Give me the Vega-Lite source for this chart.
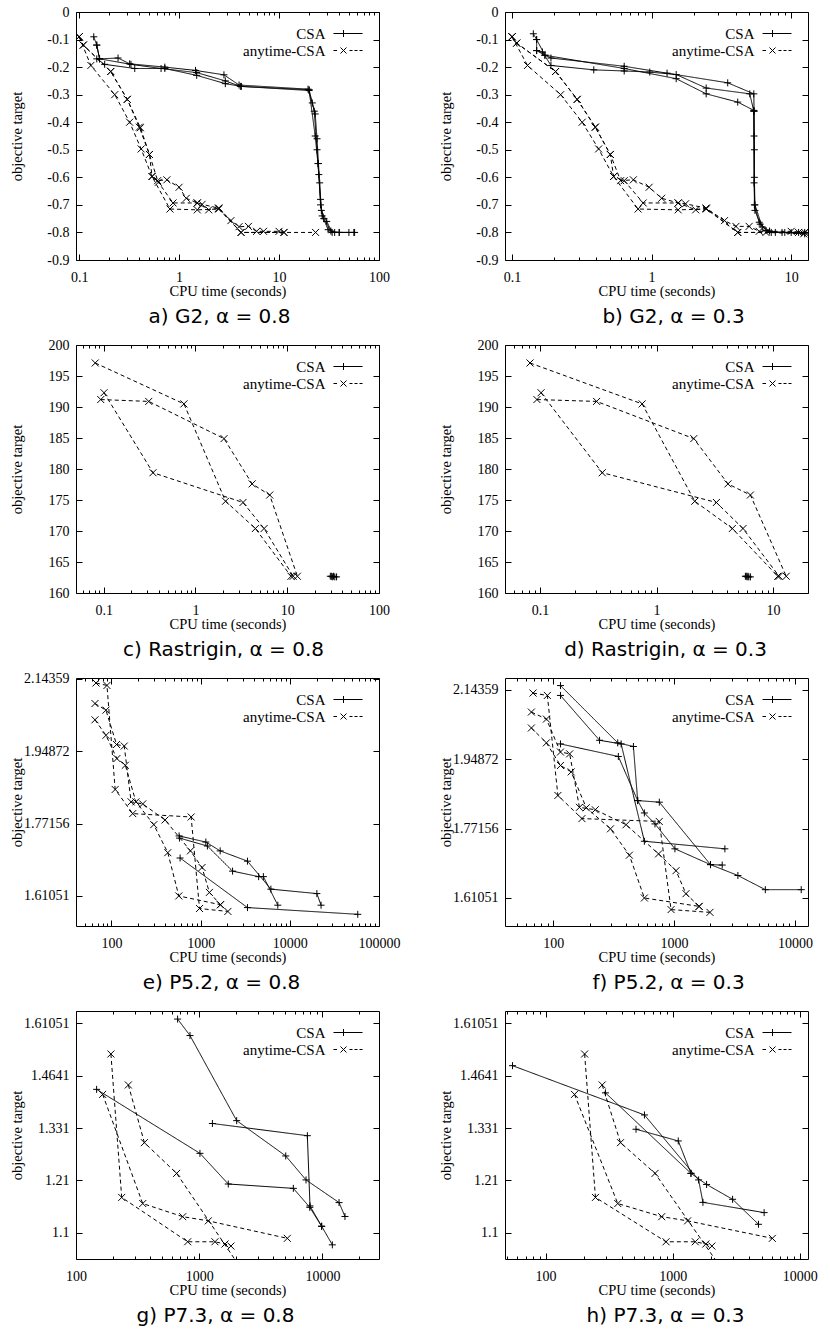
{
"$schema": "https://vega.github.io/schema/vega-lite/v6.json",
"background": "white",
"padding": {"left": 8, "top": 4, "right": 5, "bottom": 5},
"bounds": "flush",
"columns": 2,
"spacing": {"row": 85, "column": 126},
"resolve": {"scale": {"shape": "independent"}, "legend": {"shape": "independent"}},
"data": {"values": [
{"p":"a","a":"CSA","r":1,"t":0.14,"v":-0.09},{"p":"a","a":"CSA","r":1,"t":0.15,"v":-0.12},{"p":"a","a":"CSA","r":1,"t":0.16,"v":-0.17},{"p":"a","a":"CSA","r":1,"t":0.245,"v":-0.167},{"p":"a","a":"CSA","r":1,"t":0.32,"v":-0.188},{"p":"a","a":"CSA","r":1,"t":0.72,"v":-0.2},{"p":"a","a":"CSA","r":1,"t":1.46,"v":-0.212},{"p":"a","a":"CSA","r":1,"t":2.81,"v":-0.228},{"p":"a","a":"CSA","r":1,"t":3.98,"v":-0.265},{"p":"a","a":"CSA","r":1,"t":19.5,"v":-0.28},{"p":"a","a":"CSA","r":1,"t":21.5,"v":-0.33},{"p":"a","a":"CSA","r":1,"t":23,"v":-0.37},{"p":"a","a":"CSA","r":1,"t":24,"v":-0.46},{"p":"a","a":"CSA","r":1,"t":24.8,"v":-0.55},{"p":"a","a":"CSA","r":1,"t":25.5,"v":-0.62},{"p":"a","a":"CSA","r":1,"t":26.5,"v":-0.72},{"p":"a","a":"CSA","r":1,"t":30,"v":-0.76},{"p":"a","a":"CSA","r":1,"t":34,"v":-0.8},{"p":"a","a":"CSA","r":1,"t":40,"v":-0.8},{"p":"a","a":"CSA","r":1,"t":56,"v":-0.8},
{"p":"a","a":"CSA","r":2,"t":0.15,"v":-0.12},{"p":"a","a":"CSA","r":2,"t":0.16,"v":-0.17},{"p":"a","a":"CSA","r":2,"t":0.33,"v":-0.19},{"p":"a","a":"CSA","r":2,"t":0.66,"v":-0.205},{"p":"a","a":"CSA","r":2,"t":1.5,"v":-0.22},{"p":"a","a":"CSA","r":2,"t":2.9,"v":-0.25},{"p":"a","a":"CSA","r":2,"t":4.1,"v":-0.27},{"p":"a","a":"CSA","r":2,"t":20,"v":-0.282},{"p":"a","a":"CSA","r":2,"t":22.5,"v":-0.36},{"p":"a","a":"CSA","r":2,"t":24,"v":-0.5},{"p":"a","a":"CSA","r":2,"t":25,"v":-0.59},{"p":"a","a":"CSA","r":2,"t":26,"v":-0.7},{"p":"a","a":"CSA","r":2,"t":28,"v":-0.75},{"p":"a","a":"CSA","r":2,"t":33,"v":-0.795},{"p":"a","a":"CSA","r":2,"t":40,"v":-0.8},{"p":"a","a":"CSA","r":2,"t":50,"v":-0.8},
{"p":"a","a":"CSA","r":3,"t":0.15,"v":-0.17},{"p":"a","a":"CSA","r":3,"t":0.18,"v":-0.19},{"p":"a","a":"CSA","r":3,"t":0.36,"v":-0.205},{"p":"a","a":"CSA","r":3,"t":0.72,"v":-0.205},{"p":"a","a":"CSA","r":3,"t":1.5,"v":-0.23},{"p":"a","a":"CSA","r":3,"t":2.9,"v":-0.26},{"p":"a","a":"CSA","r":3,"t":4.2,"v":-0.27},{"p":"a","a":"CSA","r":3,"t":20,"v":-0.285},{"p":"a","a":"CSA","r":3,"t":23,"v":-0.45},{"p":"a","a":"CSA","r":3,"t":24.5,"v":-0.55},{"p":"a","a":"CSA","r":3,"t":26,"v":-0.68},{"p":"a","a":"CSA","r":3,"t":27,"v":-0.74},{"p":"a","a":"CSA","r":3,"t":31,"v":-0.79},{"p":"a","a":"CSA","r":3,"t":36,"v":-0.8},{"p":"a","a":"CSA","r":3,"t":57,"v":-0.8},
{"p":"a","a":"anytime-CSA","r":4,"t":0.1,"v":-0.09},{"p":"a","a":"anytime-CSA","r":4,"t":0.11,"v":-0.12},{"p":"a","a":"anytime-CSA","r":4,"t":0.207,"v":-0.216},{"p":"a","a":"anytime-CSA","r":4,"t":0.303,"v":-0.317},{"p":"a","a":"anytime-CSA","r":4,"t":0.4,"v":-0.418},{"p":"a","a":"anytime-CSA","r":4,"t":0.505,"v":-0.517},{"p":"a","a":"anytime-CSA","r":4,"t":0.61,"v":-0.612},{"p":"a","a":"anytime-CSA","r":4,"t":0.755,"v":-0.609},{"p":"a","a":"anytime-CSA","r":4,"t":1.0,"v":-0.636},{"p":"a","a":"anytime-CSA","r":4,"t":1.18,"v":-0.676},{"p":"a","a":"anytime-CSA","r":4,"t":1.52,"v":-0.693},{"p":"a","a":"anytime-CSA","r":4,"t":1.7,"v":-0.698},{"p":"a","a":"anytime-CSA","r":4,"t":2.49,"v":-0.712},{"p":"a","a":"anytime-CSA","r":4,"t":3.3,"v":-0.757},{"p":"a","a":"anytime-CSA","r":4,"t":3.98,"v":-0.779},{"p":"a","a":"anytime-CSA","r":4,"t":4.94,"v":-0.778},{"p":"a","a":"anytime-CSA","r":4,"t":5.96,"v":-0.796},{"p":"a","a":"anytime-CSA","r":4,"t":7.0,"v":-0.796},{"p":"a","a":"anytime-CSA","r":4,"t":10,"v":-0.796},{"p":"a","a":"anytime-CSA","r":4,"t":11.2,"v":-0.8},
{"p":"a","a":"anytime-CSA","r":5,"t":0.1,"v":-0.09},{"p":"a","a":"anytime-CSA","r":5,"t":0.11,"v":-0.12},{"p":"a","a":"anytime-CSA","r":5,"t":0.207,"v":-0.216},{"p":"a","a":"anytime-CSA","r":5,"t":0.303,"v":-0.317},{"p":"a","a":"anytime-CSA","r":5,"t":0.41,"v":-0.42},{"p":"a","a":"anytime-CSA","r":5,"t":0.505,"v":-0.517},{"p":"a","a":"anytime-CSA","r":5,"t":0.536,"v":-0.597},{"p":"a","a":"anytime-CSA","r":5,"t":0.62,"v":-0.618},{"p":"a","a":"anytime-CSA","r":5,"t":0.87,"v":-0.693},{"p":"a","a":"anytime-CSA","r":5,"t":1.52,"v":-0.693},{"p":"a","a":"anytime-CSA","r":5,"t":1.98,"v":-0.718},{"p":"a","a":"anytime-CSA","r":5,"t":2.49,"v":-0.712},{"p":"a","a":"anytime-CSA","r":5,"t":4.17,"v":-0.8},{"p":"a","a":"anytime-CSA","r":5,"t":23.2,"v":-0.8},
{"p":"a","a":"anytime-CSA","r":6,"t":0.1,"v":-0.09},{"p":"a","a":"anytime-CSA","r":6,"t":0.131,"v":-0.194},{"p":"a","a":"anytime-CSA","r":6,"t":0.227,"v":-0.3},{"p":"a","a":"anytime-CSA","r":6,"t":0.32,"v":-0.4},{"p":"a","a":"anytime-CSA","r":6,"t":0.417,"v":-0.497},{"p":"a","a":"anytime-CSA","r":6,"t":0.536,"v":-0.597},{"p":"a","a":"anytime-CSA","r":6,"t":0.81,"v":-0.715},{"p":"a","a":"anytime-CSA","r":6,"t":1.52,"v":-0.718},{"p":"a","a":"anytime-CSA","r":6,"t":2.49,"v":-0.715},{"p":"a","a":"anytime-CSA","r":6,"t":4.17,"v":-0.8},{"p":"a","a":"anytime-CSA","r":6,"t":11.2,"v":-0.8},

{"p":"b","a":"CSA","r":1,"t":0.142,"v":-0.079},{"p":"b","a":"CSA","r":1,"t":0.15,"v":-0.1},{"p":"b","a":"CSA","r":1,"t":0.172,"v":-0.157},{"p":"b","a":"CSA","r":1,"t":0.19,"v":-0.167},{"p":"b","a":"CSA","r":1,"t":0.636,"v":-0.197},{"p":"b","a":"CSA","r":1,"t":1.29,"v":-0.222},{"p":"b","a":"CSA","r":1,"t":3.51,"v":-0.257},{"p":"b","a":"CSA","r":1,"t":5.4,"v":-0.297},{"p":"b","a":"CSA","r":1,"t":5.42,"v":-0.36},{"p":"b","a":"CSA","r":1,"t":5.45,"v":-0.5},{"p":"b","a":"CSA","r":1,"t":5.45,"v":-0.7},{"p":"b","a":"CSA","r":1,"t":5.9,"v":-0.763},{"p":"b","a":"CSA","r":1,"t":6.6,"v":-0.793},{"p":"b","a":"CSA","r":1,"t":7.7,"v":-0.8},{"p":"b","a":"CSA","r":1,"t":10,"v":-0.8},{"p":"b","a":"CSA","r":1,"t":12.5,"v":-0.8},
{"p":"b","a":"CSA","r":2,"t":0.15,"v":-0.1},{"p":"b","a":"CSA","r":2,"t":0.15,"v":-0.14},{"p":"b","a":"CSA","r":2,"t":0.165,"v":-0.145},{"p":"b","a":"CSA","r":2,"t":0.19,"v":-0.194},{"p":"b","a":"CSA","r":2,"t":0.385,"v":-0.21},{"p":"b","a":"CSA","r":2,"t":0.636,"v":-0.214},{"p":"b","a":"CSA","r":2,"t":0.97,"v":-0.218},{"p":"b","a":"CSA","r":2,"t":1.5,"v":-0.227},{"p":"b","a":"CSA","r":2,"t":2.46,"v":-0.276},{"p":"b","a":"CSA","r":2,"t":5.05,"v":-0.297},{"p":"b","a":"CSA","r":2,"t":5.4,"v":-0.36},{"p":"b","a":"CSA","r":2,"t":5.42,"v":-0.62},{"p":"b","a":"CSA","r":2,"t":5.5,"v":-0.72},{"p":"b","a":"CSA","r":2,"t":6.0,"v":-0.77},{"p":"b","a":"CSA","r":2,"t":7.0,"v":-0.795},{"p":"b","a":"CSA","r":2,"t":8.6,"v":-0.8},{"p":"b","a":"CSA","r":2,"t":11.3,"v":-0.8},
{"p":"b","a":"CSA","r":3,"t":0.15,"v":-0.14},{"p":"b","a":"CSA","r":3,"t":0.172,"v":-0.157},{"p":"b","a":"CSA","r":3,"t":0.636,"v":-0.205},{"p":"b","a":"CSA","r":3,"t":1.5,"v":-0.242},{"p":"b","a":"CSA","r":3,"t":2.46,"v":-0.297},{"p":"b","a":"CSA","r":3,"t":4.14,"v":-0.327},{"p":"b","a":"CSA","r":3,"t":5.4,"v":-0.357},{"p":"b","a":"CSA","r":3,"t":5.42,"v":-0.45},{"p":"b","a":"CSA","r":3,"t":5.45,"v":-0.6},{"p":"b","a":"CSA","r":3,"t":5.5,"v":-0.7},{"p":"b","a":"CSA","r":3,"t":6.2,"v":-0.78},{"p":"b","a":"CSA","r":3,"t":7.2,"v":-0.8},{"p":"b","a":"CSA","r":3,"t":9.0,"v":-0.8},{"p":"b","a":"CSA","r":3,"t":12.5,"v":-0.805},
{"p":"b","a":"anytime-CSA","r":4,"t":0.1,"v":-0.09},{"p":"b","a":"anytime-CSA","r":4,"t":0.108,"v":-0.113},{"p":"b","a":"anytime-CSA","r":4,"t":0.205,"v":-0.216},{"p":"b","a":"anytime-CSA","r":4,"t":0.293,"v":-0.317},{"p":"b","a":"anytime-CSA","r":4,"t":0.395,"v":-0.418},{"p":"b","a":"anytime-CSA","r":4,"t":0.506,"v":-0.517},{"p":"b","a":"anytime-CSA","r":4,"t":0.6,"v":-0.612},{"p":"b","a":"anytime-CSA","r":4,"t":0.74,"v":-0.609},{"p":"b","a":"anytime-CSA","r":4,"t":0.96,"v":-0.636},{"p":"b","a":"anytime-CSA","r":4,"t":1.18,"v":-0.676},{"p":"b","a":"anytime-CSA","r":4,"t":1.55,"v":-0.693},{"p":"b","a":"anytime-CSA","r":4,"t":1.75,"v":-0.696},{"p":"b","a":"anytime-CSA","r":4,"t":2.46,"v":-0.712},{"p":"b","a":"anytime-CSA","r":4,"t":3.33,"v":-0.757},{"p":"b","a":"anytime-CSA","r":4,"t":4.02,"v":-0.778},{"p":"b","a":"anytime-CSA","r":4,"t":5.0,"v":-0.778},{"p":"b","a":"anytime-CSA","r":4,"t":5.9,"v":-0.796},{"p":"b","a":"anytime-CSA","r":4,"t":10,"v":-0.796},{"p":"b","a":"anytime-CSA","r":4,"t":12.5,"v":-0.8},
{"p":"b","a":"anytime-CSA","r":5,"t":0.1,"v":-0.09},{"p":"b","a":"anytime-CSA","r":5,"t":0.108,"v":-0.113},{"p":"b","a":"anytime-CSA","r":5,"t":0.205,"v":-0.216},{"p":"b","a":"anytime-CSA","r":5,"t":0.293,"v":-0.317},{"p":"b","a":"anytime-CSA","r":5,"t":0.395,"v":-0.418},{"p":"b","a":"anytime-CSA","r":5,"t":0.506,"v":-0.517},{"p":"b","a":"anytime-CSA","r":5,"t":0.534,"v":-0.597},{"p":"b","a":"anytime-CSA","r":5,"t":0.636,"v":-0.612},{"p":"b","a":"anytime-CSA","r":5,"t":0.87,"v":-0.693},{"p":"b","a":"anytime-CSA","r":5,"t":1.55,"v":-0.693},{"p":"b","a":"anytime-CSA","r":5,"t":2.07,"v":-0.718},{"p":"b","a":"anytime-CSA","r":5,"t":2.46,"v":-0.712},{"p":"b","a":"anytime-CSA","r":5,"t":4.14,"v":-0.8},{"p":"b","a":"anytime-CSA","r":5,"t":11.3,"v":-0.8},
{"p":"b","a":"anytime-CSA","r":6,"t":0.1,"v":-0.09},{"p":"b","a":"anytime-CSA","r":6,"t":0.129,"v":-0.194},{"p":"b","a":"anytime-CSA","r":6,"t":0.223,"v":-0.3},{"p":"b","a":"anytime-CSA","r":6,"t":0.318,"v":-0.4},{"p":"b","a":"anytime-CSA","r":6,"t":0.417,"v":-0.497},{"p":"b","a":"anytime-CSA","r":6,"t":0.534,"v":-0.597},{"p":"b","a":"anytime-CSA","r":6,"t":0.8,"v":-0.715},{"p":"b","a":"anytime-CSA","r":6,"t":1.55,"v":-0.718},{"p":"b","a":"anytime-CSA","r":6,"t":2.46,"v":-0.715},{"p":"b","a":"anytime-CSA","r":6,"t":4.14,"v":-0.8},{"p":"b","a":"anytime-CSA","r":6,"t":6.6,"v":-0.8},{"p":"b","a":"anytime-CSA","r":6,"t":12.3,"v":-0.805},

{"p":"c","a":"CSA","r":1,"t":29.5,"v":162.7},{"p":"c","a":"CSA","r":1,"t":31,"v":162.6},{"p":"c","a":"CSA","r":2,"t":30.5,"v":162.7},{"p":"c","a":"CSA","r":2,"t":33,"v":162.6},{"p":"c","a":"CSA","r":3,"t":32,"v":162.7},{"p":"c","a":"CSA","r":3,"t":34.5,"v":162.6},
{"p":"c","a":"anytime-CSA","r":4,"t":0.081,"v":197.1},{"p":"c","a":"anytime-CSA","r":4,"t":0.75,"v":190.5},{"p":"c","a":"anytime-CSA","r":4,"t":2.13,"v":174.8},{"p":"c","a":"anytime-CSA","r":4,"t":4.5,"v":170.4},{"p":"c","a":"anytime-CSA","r":4,"t":11,"v":162.7},
{"p":"c","a":"anytime-CSA","r":5,"t":0.093,"v":191.2},{"p":"c","a":"anytime-CSA","r":5,"t":0.31,"v":190.9},{"p":"c","a":"anytime-CSA","r":5,"t":2.05,"v":184.9},{"p":"c","a":"anytime-CSA","r":5,"t":4.15,"v":177.6},{"p":"c","a":"anytime-CSA","r":5,"t":6.45,"v":175.8},{"p":"c","a":"anytime-CSA","r":5,"t":12.9,"v":162.7},
{"p":"c","a":"anytime-CSA","r":6,"t":0.101,"v":192.3},{"p":"c","a":"anytime-CSA","r":6,"t":0.345,"v":179.4},{"p":"c","a":"anytime-CSA","r":6,"t":3.3,"v":174.6},{"p":"c","a":"anytime-CSA","r":6,"t":5.6,"v":170.4},{"p":"c","a":"anytime-CSA","r":6,"t":11.6,"v":162.7},

{"p":"d","a":"CSA","r":1,"t":5.8,"v":162.7},{"p":"d","a":"CSA","r":1,"t":6.0,"v":162.6},{"p":"d","a":"CSA","r":2,"t":5.9,"v":162.7},{"p":"d","a":"CSA","r":2,"t":6.2,"v":162.6},{"p":"d","a":"CSA","r":3,"t":6.1,"v":162.7},{"p":"d","a":"CSA","r":3,"t":6.4,"v":162.6},
{"p":"d","a":"anytime-CSA","r":4,"t":0.082,"v":197.1},{"p":"d","a":"anytime-CSA","r":4,"t":0.753,"v":190.5},{"p":"d","a":"anytime-CSA","r":4,"t":2.13,"v":174.8},{"p":"d","a":"anytime-CSA","r":4,"t":4.48,"v":170.4},{"p":"d","a":"anytime-CSA","r":4,"t":11,"v":162.7},
{"p":"d","a":"anytime-CSA","r":5,"t":0.094,"v":191.2},{"p":"d","a":"anytime-CSA","r":5,"t":0.306,"v":190.9},{"p":"d","a":"anytime-CSA","r":5,"t":2.09,"v":184.9},{"p":"d","a":"anytime-CSA","r":5,"t":4.11,"v":177.6},{"p":"d","a":"anytime-CSA","r":5,"t":6.4,"v":175.8},{"p":"d","a":"anytime-CSA","r":5,"t":13,"v":162.7},
{"p":"d","a":"anytime-CSA","r":6,"t":0.102,"v":192.3},{"p":"d","a":"anytime-CSA","r":6,"t":0.342,"v":179.4},{"p":"d","a":"anytime-CSA","r":6,"t":3.27,"v":174.6},{"p":"d","a":"anytime-CSA","r":6,"t":5.53,"v":170.4},{"p":"d","a":"anytime-CSA","r":6,"t":11.3,"v":162.7},

{"p":"e","a":"CSA","r":1,"t":573,"v":1.743},{"p":"e","a":"CSA","r":1,"t":1143,"v":1.729},{"p":"e","a":"CSA","r":1,"t":1655,"v":1.709},{"p":"e","a":"CSA","r":1,"t":3350,"v":1.686},{"p":"e","a":"CSA","r":1,"t":6130,"v":1.625},{"p":"e","a":"CSA","r":1,"t":20100,"v":1.6155},{"p":"e","a":"CSA","r":1,"t":22400,"v":1.591},
{"p":"e","a":"CSA","r":2,"t":580,"v":1.738},{"p":"e","a":"CSA","r":2,"t":1190,"v":1.72},{"p":"e","a":"CSA","r":2,"t":2280,"v":1.664},{"p":"e","a":"CSA","r":2,"t":4470,"v":1.652},{"p":"e","a":"CSA","r":2,"t":5050,"v":1.652},{"p":"e","a":"CSA","r":2,"t":7330,"v":1.591},
{"p":"e","a":"CSA","r":3,"t":588,"v":1.693},{"p":"e","a":"CSA","r":3,"t":3350,"v":1.586},{"p":"e","a":"CSA","r":3,"t":57800,"v":1.572},
{"p":"e","a":"anytime-CSA","r":4,"t":67,"v":2.132},{"p":"e","a":"anytime-CSA","r":4,"t":89,"v":2.125},{"p":"e","a":"anytime-CSA","r":4,"t":110,"v":1.853},{"p":"e","a":"anytime-CSA","r":4,"t":173,"v":1.795},{"p":"e","a":"anytime-CSA","r":4,"t":782,"v":1.787},{"p":"e","a":"anytime-CSA","r":4,"t":971,"v":1.584},{"p":"e","a":"anytime-CSA","r":4,"t":2020,"v":1.578},
{"p":"e","a":"anytime-CSA","r":5,"t":65.3,"v":2.075},{"p":"e","a":"anytime-CSA","r":5,"t":86.7,"v":2.057},{"p":"e","a":"anytime-CSA","r":5,"t":114,"v":1.966},{"p":"e","a":"anytime-CSA","r":5,"t":139,"v":1.962},{"p":"e","a":"anytime-CSA","r":5,"t":166,"v":1.823},{"p":"e","a":"anytime-CSA","r":5,"t":224,"v":1.818},{"p":"e","a":"anytime-CSA","r":5,"t":399,"v":1.78},{"p":"e","a":"anytime-CSA","r":5,"t":768,"v":1.709},{"p":"e","a":"anytime-CSA","r":5,"t":1037,"v":1.672},{"p":"e","a":"anytime-CSA","r":5,"t":1253,"v":1.618},{"p":"e","a":"anytime-CSA","r":5,"t":1667,"v":1.592},
{"p":"e","a":"anytime-CSA","r":6,"t":65.3,"v":2.031},{"p":"e","a":"anytime-CSA","r":6,"t":86.7,"v":1.99},{"p":"e","a":"anytime-CSA","r":6,"t":115,"v":1.93},{"p":"e","a":"anytime-CSA","r":6,"t":143,"v":1.913},{"p":"e","a":"anytime-CSA","r":6,"t":188,"v":1.823},{"p":"e","a":"anytime-CSA","r":6,"t":298,"v":1.769},{"p":"e","a":"anytime-CSA","r":6,"t":428,"v":1.705},{"p":"e","a":"anytime-CSA","r":6,"t":569,"v":1.6105},{"p":"e","a":"anytime-CSA","r":6,"t":1667,"v":1.592},

{"p":"f","a":"CSA","r":1,"t":115,"v":2.156},{"p":"f","a":"CSA","r":1,"t":342,"v":1.993},{"p":"f","a":"CSA","r":1,"t":461,"v":1.983},{"p":"f","a":"CSA","r":1,"t":500,"v":1.841},{"p":"f","a":"CSA","r":1,"t":755,"v":1.837},{"p":"f","a":"CSA","r":1,"t":2000,"v":1.686},{"p":"f","a":"CSA","r":1,"t":2500,"v":1.685},
{"p":"f","a":"CSA","r":2,"t":115,"v":2.127},{"p":"f","a":"CSA","r":2,"t":242,"v":2.0},{"p":"f","a":"CSA","r":2,"t":365,"v":1.99},{"p":"f","a":"CSA","r":2,"t":568,"v":1.741},{"p":"f","a":"CSA","r":2,"t":2630,"v":1.723},
{"p":"f","a":"CSA","r":3,"t":115,"v":1.99},{"p":"f","a":"CSA","r":3,"t":346,"v":1.956},{"p":"f","a":"CSA","r":3,"t":500,"v":1.841},{"p":"f","a":"CSA","r":3,"t":568,"v":1.81},{"p":"f","a":"CSA","r":3,"t":695,"v":1.783},{"p":"f","a":"CSA","r":3,"t":1016,"v":1.723},{"p":"f","a":"CSA","r":3,"t":2000,"v":1.686},{"p":"f","a":"CSA","r":3,"t":3370,"v":1.661},{"p":"f","a":"CSA","r":3,"t":5680,"v":1.629},{"p":"f","a":"CSA","r":3,"t":11250,"v":1.629},
{"p":"f","a":"anytime-CSA","r":4,"t":68.2,"v":2.134},{"p":"f","a":"anytime-CSA","r":4,"t":89.6,"v":2.127},{"p":"f","a":"anytime-CSA","r":4,"t":109.5,"v":1.854},{"p":"f","a":"anytime-CSA","r":4,"t":173,"v":1.796},{"p":"f","a":"anytime-CSA","r":4,"t":754,"v":1.789},{"p":"f","a":"anytime-CSA","r":4,"t":944,"v":1.585},{"p":"f","a":"anytime-CSA","r":4,"t":1980,"v":1.579},
{"p":"f","a":"anytime-CSA","r":5,"t":66.1,"v":2.079},{"p":"f","a":"anytime-CSA","r":5,"t":88,"v":2.059},{"p":"f","a":"anytime-CSA","r":5,"t":115,"v":1.968},{"p":"f","a":"anytime-CSA","r":5,"t":137,"v":1.963},{"p":"f","a":"anytime-CSA","r":5,"t":165,"v":1.824},{"p":"f","a":"anytime-CSA","r":5,"t":223,"v":1.818},{"p":"f","a":"anytime-CSA","r":5,"t":401,"v":1.781},{"p":"f","a":"anytime-CSA","r":5,"t":744,"v":1.711},{"p":"f","a":"anytime-CSA","r":5,"t":1037,"v":1.672},{"p":"f","a":"anytime-CSA","r":5,"t":1254,"v":1.62},{"p":"f","a":"anytime-CSA","r":5,"t":1610,"v":1.592},
{"p":"f","a":"anytime-CSA","r":6,"t":66.1,"v":2.034},{"p":"f","a":"anytime-CSA","r":6,"t":88,"v":1.993},{"p":"f","a":"anytime-CSA","r":6,"t":115,"v":1.932},{"p":"f","a":"anytime-CSA","r":6,"t":141,"v":1.915},{"p":"f","a":"anytime-CSA","r":6,"t":188,"v":1.823},{"p":"f","a":"anytime-CSA","r":6,"t":298,"v":1.771},{"p":"f","a":"anytime-CSA","r":6,"t":427,"v":1.708},{"p":"f","a":"anytime-CSA","r":6,"t":568,"v":1.6105},{"p":"f","a":"anytime-CSA","r":6,"t":1610,"v":1.592},

{"p":"g","a":"CSA","r":1,"t":668,"v":1.623},{"p":"g","a":"CSA","r":1,"t":842,"v":1.575},{"p":"g","a":"CSA","r":1,"t":2014,"v":1.349},{"p":"g","a":"CSA","r":1,"t":5040,"v":1.265},{"p":"g","a":"CSA","r":1,"t":7360,"v":1.211},{"p":"g","a":"CSA","r":1,"t":13650,"v":1.162},{"p":"g","a":"CSA","r":1,"t":15250,"v":1.133},
{"p":"g","a":"CSA","r":2,"t":1280,"v":1.342},{"p":"g","a":"CSA","r":2,"t":7550,"v":1.3125},{"p":"g","a":"CSA","r":2,"t":7930,"v":1.155},{"p":"g","a":"CSA","r":2,"t":9860,"v":1.113},
{"p":"g","a":"CSA","r":3,"t":147,"v":1.428},{"p":"g","a":"CSA","r":3,"t":1014,"v":1.271},{"p":"g","a":"CSA","r":3,"t":1722,"v":1.202},{"p":"g","a":"CSA","r":3,"t":5810,"v":1.1925},{"p":"g","a":"CSA","r":3,"t":7900,"v":1.152},{"p":"g","a":"CSA","r":3,"t":9860,"v":1.113},{"p":"g","a":"CSA","r":3,"t":12040,"v":1.076},
{"p":"g","a":"anytime-CSA","r":4,"t":192,"v":1.523},{"p":"g","a":"anytime-CSA","r":4,"t":235,"v":1.173},{"p":"g","a":"anytime-CSA","r":4,"t":806,"v":1.082},{"p":"g","a":"anytime-CSA","r":4,"t":1342,"v":1.082},{"p":"g","a":"anytime-CSA","r":4,"t":1619,"v":1.0776},{"p":"g","a":"anytime-CSA","r":4,"t":1810,"v":1.0736},
{"p":"g","a":"anytime-CSA","r":5,"t":164.5,"v":1.415},{"p":"g","a":"anytime-CSA","r":5,"t":348,"v":1.16},{"p":"g","a":"anytime-CSA","r":5,"t":735,"v":1.1326},{"p":"g","a":"anytime-CSA","r":5,"t":1186,"v":1.124},{"p":"g","a":"anytime-CSA","r":5,"t":5190,"v":1.0888},
{"p":"g","a":"anytime-CSA","r":6,"t":266,"v":1.4395},{"p":"g","a":"anytime-CSA","r":6,"t":359,"v":1.296},{"p":"g","a":"anytime-CSA","r":6,"t":656,"v":1.2255},{"p":"g","a":"anytime-CSA","r":6,"t":2750,"v":0.997},

{"p":"h","a":"CSA","r":1,"t":55,"v":1.491},{"p":"h","a":"CSA","r":1,"t":600,"v":1.363},{"p":"h","a":"CSA","r":1,"t":1600,"v":1.211},{"p":"h","a":"CSA","r":1,"t":1730,"v":1.1625},{"p":"h","a":"CSA","r":1,"t":5240,"v":1.141},
{"p":"h","a":"CSA","r":2,"t":296,"v":1.419},{"p":"h","a":"CSA","r":2,"t":1393,"v":1.2255},{"p":"h","a":"CSA","r":2,"t":1848,"v":1.201},{"p":"h","a":"CSA","r":2,"t":2960,"v":1.169},{"p":"h","a":"CSA","r":2,"t":4730,"v":1.117},
{"p":"h","a":"CSA","r":3,"t":515,"v":1.328},{"p":"h","a":"CSA","r":3,"t":1107,"v":1.3},{"p":"h","a":"CSA","r":3,"t":1393,"v":1.2255},
{"p":"h","a":"anytime-CSA","r":4,"t":203,"v":1.523},{"p":"h","a":"anytime-CSA","r":4,"t":247,"v":1.173},{"p":"h","a":"anytime-CSA","r":4,"t":887,"v":1.082},{"p":"h","a":"anytime-CSA","r":4,"t":1506,"v":1.082},{"p":"h","a":"anytime-CSA","r":4,"t":1824,"v":1.0776},{"p":"h","a":"anytime-CSA","r":4,"t":2035,"v":1.0736},
{"p":"h","a":"anytime-CSA","r":5,"t":169,"v":1.415},{"p":"h","a":"anytime-CSA","r":5,"t":370,"v":1.16},{"p":"h","a":"anytime-CSA","r":5,"t":820,"v":1.1326},{"p":"h","a":"anytime-CSA","r":5,"t":1311,"v":1.124},{"p":"h","a":"anytime-CSA","r":5,"t":6080,"v":1.0888},
{"p":"h","a":"anytime-CSA","r":6,"t":279,"v":1.4395},{"p":"h","a":"anytime-CSA","r":6,"t":389,"v":1.296},{"p":"h","a":"anytime-CSA","r":6,"t":727,"v":1.2255},{"p":"h","a":"anytime-CSA","r":6,"t":3050,"v":0.997}
]},
"concat": [
{"width": 303, "height": 248, "transform": [{"filter": "datum.p === 'a'"}],
 "title": {"text": "a) G2, α = 0.8", "orient": "bottom", "anchor": "middle", "frame": "group", "offset": 9, "dx": -8},
 "resolve": {"axis": {"x": "independent", "y": "independent"}},
 "layer": [
  {"mark": {"type": "line", "clip": true, "color": "#000", "strokeWidth": 1},
   "encoding": {
    "x": {"field": "t", "type": "quantitative", "scale": {"type": "log", "domain": [0.093, 100], "nice": false}, "axis": {"orient": "bottom", "values": [0.1,1,10,100], "labelExpr": "format(datum.value,'~g')", "title": "CPU time (seconds)", "titleY": 31, "titleBaseline": "middle", "tickSize": -6, "labelPadding": 16}},
    "y": {"field": "v", "type": "quantitative", "scale": {"domain": [-0.9, 0], "nice": false, "zero": false}, "axis": {"orient": "left", "values": [0,-0.1,-0.2,-0.3,-0.4,-0.5,-0.6,-0.7,-0.8,-0.9], "labelExpr": "datum.value == 0 ? '0' : '-' + format(-datum.value, '.1f')", "title": "objective target", "titleX": -59, "titleY": 124, "titleAngle": 270, "titleAlign": "center", "titleBaseline": "middle", "tickSize": -6, "labelPadding": 13}},
    "detail": {"field": "r", "type": "nominal"},
    "strokeDash": {"condition": {"test": "datum.a === 'CSA'", "value": [1,0]}, "value": [4,3]},
    "order": {"value": null}
   }},
  {"mark": {"type": "point", "clip": true, "filled": false, "color": "#000", "strokeWidth": 1, "size": 49, "opacity": 1},
   "encoding": {
    "x": {"field": "t", "type": "quantitative", "scale": {"type": "log", "domain": [0.093, 100], "nice": false}, "axis": {"orient": "top", "values": [0.1,1,10,100], "labels": false, "title": null, "tickSize": -6}},
    "y": {"field": "v", "type": "quantitative", "scale": {"domain": [-0.9, 0], "nice": false, "zero": false}, "axis": {"orient": "right", "values": [0,-0.1,-0.2,-0.3,-0.4,-0.5,-0.6,-0.7,-0.8,-0.9], "labels": false, "title": null, "tickSize": -6}},
    "shape": {"condition": {"test": "datum.a === 'CSA'", "value": "M-1,0H1M0,-1V1"}, "value": "M-1,-1L1,1M-1,1L1,-1"}
   }},
  {"transform": [{"filter": "false"}],
   "mark": {"type": "point", "filled": false, "color": "#000", "strokeWidth": 1, "opacity": 1},
   "encoding": {
    "x": {"field": "t", "type": "quantitative", "scale": {"type": "log", "domain": [0.093, 100], "nice": false}, "axis": {"orient": "bottom", "values": [0.2,0.3,0.4,0.5,0.6,0.7,0.8,0.9,2,3,4,5,6,7,8,9,20,30,40,50,60,70,80,90], "labels": false, "title": null, "tickSize": -3}},
    "y": {"field": "v", "type": "quantitative", "scale": {"domain": [-0.9, 0], "nice": false, "zero": false}, "axis": null},
    "shape": {"field": "a", "type": "nominal", "scale": {"domain": ["CSA", "anytime-CSA"], "range": ["M-2,0H3.8M0,-0.7V0.7", "M-2,0H-1.3M1.2,0H1.8M2.2,0H2.8M3.2,0H3.8M-0.6,-0.6L0.6,0.6M-0.6,0.6L0.6,-0.6"]}, "legend": {"title": null, "orient": "top-right", "offset": 14, "padding": 0, "rowPadding": 1, "labelFont": "Liberation Serif", "labelFontSize": 15, "labelColor": "#000", "labelLimit": 200, "labelAlign": "right", "labelOffset": -25.5, "symbolSize": 100, "symbolStrokeColor": "#000", "symbolStrokeWidth": 1, "symbolOpacity": 1}}
   }},
  {"transform": [{"filter": "false"}],
   "mark": {"type": "point", "opacity": 0},
   "encoding": {
    "x": {"field": "t", "type": "quantitative", "scale": {"type": "log", "domain": [0.093, 100], "nice": false}, "axis": {"orient": "top", "values": [0.2,0.3,0.4,0.5,0.6,0.7,0.8,0.9,2,3,4,5,6,7,8,9,20,30,40,50,60,70,80,90], "labels": false, "title": null, "tickSize": -3}},
    "y": {"field": "v", "type": "quantitative", "scale": {"domain": [-0.9, 0], "nice": false, "zero": false}, "axis": null}
   }}
 ]},
{"width": 303, "height": 248, "transform": [{"filter": "datum.p === 'b'"}],
 "title": {"text": "b) G2, α = 0.3", "orient": "bottom", "anchor": "middle", "frame": "group", "offset": 9, "dx": 17},
 "resolve": {"axis": {"x": "independent", "y": "independent"}},
 "layer": [
  {"mark": {"type": "line", "clip": true, "color": "#000", "strokeWidth": 1},
   "encoding": {
    "x": {"field": "t", "type": "quantitative", "scale": {"type": "log", "domain": [0.089, 13.2], "nice": false}, "axis": {"orient": "bottom", "values": [0.1,1,10], "labelExpr": "format(datum.value,'~g')", "title": "CPU time (seconds)", "titleY": 31, "titleBaseline": "middle", "tickSize": -6, "labelPadding": 16}},
    "y": {"field": "v", "type": "quantitative", "scale": {"domain": [-0.9, 0], "nice": false, "zero": false}, "axis": {"orient": "left", "values": [0,-0.1,-0.2,-0.3,-0.4,-0.5,-0.6,-0.7,-0.8,-0.9], "labelExpr": "datum.value == 0 ? '0' : '-' + format(-datum.value, '.1f')", "title": "objective target", "titleX": -59, "titleY": 124, "titleAngle": 270, "titleAlign": "center", "titleBaseline": "middle", "tickSize": -6, "labelPadding": 13}},
    "detail": {"field": "r", "type": "nominal"},
    "strokeDash": {"condition": {"test": "datum.a === 'CSA'", "value": [1,0]}, "value": [4,3]},
    "order": {"value": null}
   }},
  {"mark": {"type": "point", "clip": true, "filled": false, "color": "#000", "strokeWidth": 1, "size": 49, "opacity": 1},
   "encoding": {
    "x": {"field": "t", "type": "quantitative", "scale": {"type": "log", "domain": [0.089, 13.2], "nice": false}, "axis": {"orient": "top", "values": [0.1,1,10], "labels": false, "title": null, "tickSize": -6}},
    "y": {"field": "v", "type": "quantitative", "scale": {"domain": [-0.9, 0], "nice": false, "zero": false}, "axis": {"orient": "right", "values": [0,-0.1,-0.2,-0.3,-0.4,-0.5,-0.6,-0.7,-0.8,-0.9], "labels": false, "title": null, "tickSize": -6}},
    "shape": {"condition": {"test": "datum.a === 'CSA'", "value": "M-1,0H1M0,-1V1"}, "value": "M-1,-1L1,1M-1,1L1,-1"}
   }},
  {"transform": [{"filter": "false"}],
   "mark": {"type": "point", "filled": false, "color": "#000", "strokeWidth": 1, "opacity": 1},
   "encoding": {
    "x": {"field": "t", "type": "quantitative", "scale": {"type": "log", "domain": [0.089, 13.2], "nice": false}, "axis": {"orient": "bottom", "values": [0.2,0.3,0.4,0.5,0.6,0.7,0.8,0.9,2,3,4,5,6,7,8,9], "labels": false, "title": null, "tickSize": -3}},
    "y": {"field": "v", "type": "quantitative", "scale": {"domain": [-0.9, 0], "nice": false, "zero": false}, "axis": null},
    "shape": {"field": "a", "type": "nominal", "scale": {"domain": ["CSA", "anytime-CSA"], "range": ["M-2,0H3.8M0,-0.7V0.7", "M-2,0H-1.3M1.2,0H1.8M2.2,0H2.8M3.2,0H3.8M-0.6,-0.6L0.6,0.6M-0.6,0.6L0.6,-0.6"]}, "legend": {"title": null, "orient": "top-right", "offset": 14, "padding": 0, "rowPadding": 1, "labelFont": "Liberation Serif", "labelFontSize": 15, "labelColor": "#000", "labelLimit": 200, "labelAlign": "right", "labelOffset": -25.5, "symbolSize": 100, "symbolStrokeColor": "#000", "symbolStrokeWidth": 1, "symbolOpacity": 1}}
   }},
  {"transform": [{"filter": "false"}],
   "mark": {"type": "point", "opacity": 0},
   "encoding": {
    "x": {"field": "t", "type": "quantitative", "scale": {"type": "log", "domain": [0.089, 13.2], "nice": false}, "axis": {"orient": "top", "values": [0.2,0.3,0.4,0.5,0.6,0.7,0.8,0.9,2,3,4,5,6,7,8,9], "labels": false, "title": null, "tickSize": -3}},
    "y": {"field": "v", "type": "quantitative", "scale": {"domain": [-0.9, 0], "nice": false, "zero": false}, "axis": null}
   }}
 ]},
{"width": 303, "height": 248, "transform": [{"filter": "datum.p === 'c'"}],
 "title": {"text": "c) Rastrigin, α = 0.8", "orient": "bottom", "anchor": "middle", "frame": "group", "offset": 9, "dx": -4},
 "resolve": {"axis": {"x": "independent", "y": "independent"}},
 "layer": [
  {"mark": {"type": "line", "clip": true, "color": "#000", "strokeWidth": 1},
   "encoding": {
    "x": {"field": "t", "type": "quantitative", "scale": {"type": "log", "domain": [0.05, 100], "nice": false}, "axis": {"orient": "bottom", "values": [0.1,1,10,100], "labelExpr": "format(datum.value,'~g')", "title": "CPU time (seconds)", "titleY": 31, "titleBaseline": "middle", "tickSize": -6, "labelPadding": 16}},
    "y": {"field": "v", "type": "quantitative", "scale": {"domain": [160, 200], "nice": false, "zero": false}, "axis": {"orient": "left", "values": [160,165,170,175,180,185,190,195,200], "format": "d", "title": "objective target", "titleX": -59, "titleY": 124, "titleAngle": 270, "titleAlign": "center", "titleBaseline": "middle", "tickSize": -6, "labelPadding": 13}},
    "detail": {"field": "r", "type": "nominal"},
    "strokeDash": {"condition": {"test": "datum.a === 'CSA'", "value": [1,0]}, "value": [4,3]},
    "order": {"value": null}
   }},
  {"mark": {"type": "point", "clip": true, "filled": false, "color": "#000", "strokeWidth": 1, "size": 49, "opacity": 1},
   "encoding": {
    "x": {"field": "t", "type": "quantitative", "scale": {"type": "log", "domain": [0.05, 100], "nice": false}, "axis": {"orient": "top", "values": [0.1,1,10,100], "labels": false, "title": null, "tickSize": -6}},
    "y": {"field": "v", "type": "quantitative", "scale": {"domain": [160, 200], "nice": false, "zero": false}, "axis": {"orient": "right", "values": [160,165,170,175,180,185,190,195,200], "labels": false, "title": null, "tickSize": -6}},
    "shape": {"condition": {"test": "datum.a === 'CSA'", "value": "M-1,0H1M0,-1V1"}, "value": "M-1,-1L1,1M-1,1L1,-1"}
   }},
  {"transform": [{"filter": "false"}],
   "mark": {"type": "point", "filled": false, "color": "#000", "strokeWidth": 1, "opacity": 1},
   "encoding": {
    "x": {"field": "t", "type": "quantitative", "scale": {"type": "log", "domain": [0.05, 100], "nice": false}, "axis": {"orient": "bottom", "values": [0.06,0.07,0.08,0.09,0.2,0.3,0.4,0.5,0.6,0.7,0.8,0.9,2,3,4,5,6,7,8,9,20,30,40,50,60,70,80,90], "labels": false, "title": null, "tickSize": -3}},
    "y": {"field": "v", "type": "quantitative", "scale": {"domain": [160, 200], "nice": false, "zero": false}, "axis": null},
    "shape": {"field": "a", "type": "nominal", "scale": {"domain": ["CSA", "anytime-CSA"], "range": ["M-2,0H3.8M0,-0.7V0.7", "M-2,0H-1.3M1.2,0H1.8M2.2,0H2.8M3.2,0H3.8M-0.6,-0.6L0.6,0.6M-0.6,0.6L0.6,-0.6"]}, "legend": {"title": null, "orient": "top-right", "offset": 14, "padding": 0, "rowPadding": 1, "labelFont": "Liberation Serif", "labelFontSize": 15, "labelColor": "#000", "labelLimit": 200, "labelAlign": "right", "labelOffset": -25.5, "symbolSize": 100, "symbolStrokeColor": "#000", "symbolStrokeWidth": 1, "symbolOpacity": 1}}
   }},
  {"transform": [{"filter": "false"}],
   "mark": {"type": "point", "opacity": 0},
   "encoding": {
    "x": {"field": "t", "type": "quantitative", "scale": {"type": "log", "domain": [0.05, 100], "nice": false}, "axis": {"orient": "top", "values": [0.06,0.07,0.08,0.09,0.2,0.3,0.4,0.5,0.6,0.7,0.8,0.9,2,3,4,5,6,7,8,9,20,30,40,50,60,70,80,90], "labels": false, "title": null, "tickSize": -3}},
    "y": {"field": "v", "type": "quantitative", "scale": {"domain": [160, 200], "nice": false, "zero": false}, "axis": null}
   }}
 ]},
{"width": 303, "height": 248, "transform": [{"filter": "datum.p === 'd'"}],
 "title": {"text": "d) Rastrigin, α = 0.3", "orient": "bottom", "anchor": "middle", "frame": "group", "offset": 9, "dx": 9},
 "resolve": {"axis": {"x": "independent", "y": "independent"}},
 "layer": [
  {"mark": {"type": "line", "clip": true, "color": "#000", "strokeWidth": 1},
   "encoding": {
    "x": {"field": "t", "type": "quantitative", "scale": {"type": "log", "domain": [0.05, 20], "nice": false}, "axis": {"orient": "bottom", "values": [0.1,1,10], "labelExpr": "format(datum.value,'~g')", "title": "CPU time (seconds)", "titleY": 31, "titleBaseline": "middle", "tickSize": -6, "labelPadding": 16}},
    "y": {"field": "v", "type": "quantitative", "scale": {"domain": [160, 200], "nice": false, "zero": false}, "axis": {"orient": "left", "values": [160,165,170,175,180,185,190,195,200], "format": "d", "title": "objective target", "titleX": -59, "titleY": 124, "titleAngle": 270, "titleAlign": "center", "titleBaseline": "middle", "tickSize": -6, "labelPadding": 13}},
    "detail": {"field": "r", "type": "nominal"},
    "strokeDash": {"condition": {"test": "datum.a === 'CSA'", "value": [1,0]}, "value": [4,3]},
    "order": {"value": null}
   }},
  {"mark": {"type": "point", "clip": true, "filled": false, "color": "#000", "strokeWidth": 1, "size": 49, "opacity": 1},
   "encoding": {
    "x": {"field": "t", "type": "quantitative", "scale": {"type": "log", "domain": [0.05, 20], "nice": false}, "axis": {"orient": "top", "values": [0.1,1,10], "labels": false, "title": null, "tickSize": -6}},
    "y": {"field": "v", "type": "quantitative", "scale": {"domain": [160, 200], "nice": false, "zero": false}, "axis": {"orient": "right", "values": [160,165,170,175,180,185,190,195,200], "labels": false, "title": null, "tickSize": -6}},
    "shape": {"condition": {"test": "datum.a === 'CSA'", "value": "M-1,0H1M0,-1V1"}, "value": "M-1,-1L1,1M-1,1L1,-1"}
   }},
  {"transform": [{"filter": "false"}],
   "mark": {"type": "point", "filled": false, "color": "#000", "strokeWidth": 1, "opacity": 1},
   "encoding": {
    "x": {"field": "t", "type": "quantitative", "scale": {"type": "log", "domain": [0.05, 20], "nice": false}, "axis": {"orient": "bottom", "values": [0.06,0.07,0.08,0.09,0.2,0.3,0.4,0.5,0.6,0.7,0.8,0.9,2,3,4,5,6,7,8,9], "labels": false, "title": null, "tickSize": -3}},
    "y": {"field": "v", "type": "quantitative", "scale": {"domain": [160, 200], "nice": false, "zero": false}, "axis": null},
    "shape": {"field": "a", "type": "nominal", "scale": {"domain": ["CSA", "anytime-CSA"], "range": ["M-2,0H3.8M0,-0.7V0.7", "M-2,0H-1.3M1.2,0H1.8M2.2,0H2.8M3.2,0H3.8M-0.6,-0.6L0.6,0.6M-0.6,0.6L0.6,-0.6"]}, "legend": {"title": null, "orient": "top-right", "offset": 14, "padding": 0, "rowPadding": 1, "labelFont": "Liberation Serif", "labelFontSize": 15, "labelColor": "#000", "labelLimit": 200, "labelAlign": "right", "labelOffset": -25.5, "symbolSize": 100, "symbolStrokeColor": "#000", "symbolStrokeWidth": 1, "symbolOpacity": 1}}
   }},
  {"transform": [{"filter": "false"}],
   "mark": {"type": "point", "opacity": 0},
   "encoding": {
    "x": {"field": "t", "type": "quantitative", "scale": {"type": "log", "domain": [0.05, 20], "nice": false}, "axis": {"orient": "top", "values": [0.06,0.07,0.08,0.09,0.2,0.3,0.4,0.5,0.6,0.7,0.8,0.9,2,3,4,5,6,7,8,9], "labels": false, "title": null, "tickSize": -3}},
    "y": {"field": "v", "type": "quantitative", "scale": {"domain": [160, 200], "nice": false, "zero": false}, "axis": null}
   }}
 ]},
{"width": 303, "height": 248, "transform": [{"filter": "datum.p === 'e'"}],
 "title": {"text": "e) P5.2, α = 0.8", "orient": "bottom", "anchor": "middle", "frame": "group", "offset": 9, "dx": -6},
 "resolve": {"axis": {"x": "independent", "y": "independent"}},
 "layer": [
  {"mark": {"type": "line", "clip": true, "color": "#000", "strokeWidth": 1},
   "encoding": {
    "x": {"field": "t", "type": "quantitative", "scale": {"type": "log", "domain": [40, 100000], "nice": false}, "axis": {"orient": "bottom", "values": [100,1000,10000,100000], "labelExpr": "format(datum.value,'~g')", "title": "CPU time (seconds)", "titleY": 31, "titleBaseline": "middle", "tickSize": -6, "labelPadding": 16}},
    "y": {"field": "v", "type": "quantitative", "scale": {"type": "log", "domain": [1.548, 2.146], "nice": false}, "axis": {"orient": "left", "values": [1.61051,1.771561,1.9487171,2.14358881], "labelExpr": "format(datum.value, '.6~g')", "title": "objective target", "titleX": -59, "titleY": 124, "titleAngle": 270, "titleAlign": "center", "titleBaseline": "middle", "tickSize": -6, "labelPadding": 13}},
    "detail": {"field": "r", "type": "nominal"},
    "strokeDash": {"condition": {"test": "datum.a === 'CSA'", "value": [1,0]}, "value": [4,3]},
    "order": {"value": null}
   }},
  {"mark": {"type": "point", "clip": true, "filled": false, "color": "#000", "strokeWidth": 1, "size": 49, "opacity": 1},
   "encoding": {
    "x": {"field": "t", "type": "quantitative", "scale": {"type": "log", "domain": [40, 100000], "nice": false}, "axis": {"orient": "top", "values": [100,1000,10000,100000], "labels": false, "title": null, "tickSize": -6}},
    "y": {"field": "v", "type": "quantitative", "scale": {"type": "log", "domain": [1.548, 2.146], "nice": false}, "axis": {"orient": "right", "values": [1.61051,1.771561,1.9487171,2.14358881], "labels": false, "title": null, "tickSize": -6}},
    "shape": {"condition": {"test": "datum.a === 'CSA'", "value": "M-1,0H1M0,-1V1"}, "value": "M-1,-1L1,1M-1,1L1,-1"}
   }},
  {"transform": [{"filter": "false"}],
   "mark": {"type": "point", "filled": false, "color": "#000", "strokeWidth": 1, "opacity": 1},
   "encoding": {
    "x": {"field": "t", "type": "quantitative", "scale": {"type": "log", "domain": [40, 100000], "nice": false}, "axis": {"orient": "bottom", "values": [50,60,70,80,90,200,300,400,500,600,700,800,900,2000,3000,4000,5000,6000,7000,8000,9000,20000,30000,40000,50000,60000,70000,80000,90000], "labels": false, "title": null, "tickSize": -3}},
    "y": {"field": "v", "type": "quantitative", "scale": {"type": "log", "domain": [1.548, 2.146], "nice": false}, "axis": null},
    "shape": {"field": "a", "type": "nominal", "scale": {"domain": ["CSA", "anytime-CSA"], "range": ["M-2,0H3.8M0,-0.7V0.7", "M-2,0H-1.3M1.2,0H1.8M2.2,0H2.8M3.2,0H3.8M-0.6,-0.6L0.6,0.6M-0.6,0.6L0.6,-0.6"]}, "legend": {"title": null, "orient": "top-right", "offset": 14, "padding": 0, "rowPadding": 1, "labelFont": "Liberation Serif", "labelFontSize": 15, "labelColor": "#000", "labelLimit": 200, "labelAlign": "right", "labelOffset": -25.5, "symbolSize": 100, "symbolStrokeColor": "#000", "symbolStrokeWidth": 1, "symbolOpacity": 1}}
   }},
  {"transform": [{"filter": "false"}],
   "mark": {"type": "point", "opacity": 0},
   "encoding": {
    "x": {"field": "t", "type": "quantitative", "scale": {"type": "log", "domain": [40, 100000], "nice": false}, "axis": {"orient": "top", "values": [50,60,70,80,90,200,300,400,500,600,700,800,900,2000,3000,4000,5000,6000,7000,8000,9000,20000,30000,40000,50000,60000,70000,80000,90000], "labels": false, "title": null, "tickSize": -3}},
    "y": {"field": "v", "type": "quantitative", "scale": {"type": "log", "domain": [1.548, 2.146], "nice": false}, "axis": null}
   }}
 ]},
{"width": 303, "height": 248, "transform": [{"filter": "datum.p === 'f'"}],
 "title": {"text": "f) P5.2, α = 0.3", "orient": "bottom", "anchor": "middle", "frame": "group", "offset": 9, "dx": 12},
 "resolve": {"axis": {"x": "independent", "y": "independent"}},
 "layer": [
  {"mark": {"type": "line", "clip": true, "color": "#000", "strokeWidth": 1},
   "encoding": {
    "x": {"field": "t", "type": "quantitative", "scale": {"type": "log", "domain": [40, 12800], "nice": false}, "axis": {"orient": "bottom", "values": [100,1000,10000], "labelExpr": "format(datum.value,'~g')", "title": "CPU time (seconds)", "titleY": 31, "titleBaseline": "middle", "tickSize": -6, "labelPadding": 16}},
    "y": {"field": "v", "type": "quantitative", "scale": {"type": "log", "domain": [1.5497, 2.1786], "nice": false}, "axis": {"orient": "left", "values": [1.61051,1.771561,1.9487171,2.14358881], "labelExpr": "format(datum.value, '.6~g')", "title": "objective target", "titleX": -59, "titleY": 124, "titleAngle": 270, "titleAlign": "center", "titleBaseline": "middle", "tickSize": -6, "labelPadding": 13}},
    "detail": {"field": "r", "type": "nominal"},
    "strokeDash": {"condition": {"test": "datum.a === 'CSA'", "value": [1,0]}, "value": [4,3]},
    "order": {"value": null}
   }},
  {"mark": {"type": "point", "clip": true, "filled": false, "color": "#000", "strokeWidth": 1, "size": 49, "opacity": 1},
   "encoding": {
    "x": {"field": "t", "type": "quantitative", "scale": {"type": "log", "domain": [40, 12800], "nice": false}, "axis": {"orient": "top", "values": [100,1000,10000], "labels": false, "title": null, "tickSize": -6}},
    "y": {"field": "v", "type": "quantitative", "scale": {"type": "log", "domain": [1.5497, 2.1786], "nice": false}, "axis": {"orient": "right", "values": [1.61051,1.771561,1.9487171,2.14358881], "labels": false, "title": null, "tickSize": -6}},
    "shape": {"condition": {"test": "datum.a === 'CSA'", "value": "M-1,0H1M0,-1V1"}, "value": "M-1,-1L1,1M-1,1L1,-1"}
   }},
  {"transform": [{"filter": "false"}],
   "mark": {"type": "point", "filled": false, "color": "#000", "strokeWidth": 1, "opacity": 1},
   "encoding": {
    "x": {"field": "t", "type": "quantitative", "scale": {"type": "log", "domain": [40, 12800], "nice": false}, "axis": {"orient": "bottom", "values": [50,60,70,80,90,200,300,400,500,600,700,800,900,2000,3000,4000,5000,6000,7000,8000,9000], "labels": false, "title": null, "tickSize": -3}},
    "y": {"field": "v", "type": "quantitative", "scale": {"type": "log", "domain": [1.5497, 2.1786], "nice": false}, "axis": null},
    "shape": {"field": "a", "type": "nominal", "scale": {"domain": ["CSA", "anytime-CSA"], "range": ["M-2,0H3.8M0,-0.7V0.7", "M-2,0H-1.3M1.2,0H1.8M2.2,0H2.8M3.2,0H3.8M-0.6,-0.6L0.6,0.6M-0.6,0.6L0.6,-0.6"]}, "legend": {"title": null, "orient": "top-right", "offset": 14, "padding": 0, "rowPadding": 1, "labelFont": "Liberation Serif", "labelFontSize": 15, "labelColor": "#000", "labelLimit": 200, "labelAlign": "right", "labelOffset": -25.5, "symbolSize": 100, "symbolStrokeColor": "#000", "symbolStrokeWidth": 1, "symbolOpacity": 1}}
   }},
  {"transform": [{"filter": "false"}],
   "mark": {"type": "point", "opacity": 0},
   "encoding": {
    "x": {"field": "t", "type": "quantitative", "scale": {"type": "log", "domain": [40, 12800], "nice": false}, "axis": {"orient": "top", "values": [50,60,70,80,90,200,300,400,500,600,700,800,900,2000,3000,4000,5000,6000,7000,8000,9000], "labels": false, "title": null, "tickSize": -3}},
    "y": {"field": "v", "type": "quantitative", "scale": {"type": "log", "domain": [1.5497, 2.1786], "nice": false}, "axis": null}
   }}
 ]},
{"width": 303, "height": 248, "transform": [{"filter": "datum.p === 'g'"}],
 "title": {"text": "g) P7.3, α = 0.8", "orient": "bottom", "anchor": "middle", "frame": "group", "offset": 9, "dx": -12},
 "resolve": {"axis": {"x": "independent", "y": "independent"}},
 "layer": [
  {"mark": {"type": "line", "clip": true, "color": "#000", "strokeWidth": 1},
   "encoding": {
    "x": {"field": "t", "type": "quantitative", "scale": {"type": "log", "domain": [100, 28800], "nice": false}, "axis": {"orient": "bottom", "values": [100,1000,10000], "labelExpr": "format(datum.value,'~g')", "title": "CPU time (seconds)", "titleY": 31, "titleBaseline": "middle", "tickSize": -6, "labelPadding": 16}},
    "y": {"field": "v", "type": "quantitative", "scale": {"type": "log", "domain": [1.0486, 1.647], "nice": false}, "axis": {"orient": "left", "values": [1.1,1.21,1.331,1.4641,1.61051], "labelExpr": "format(datum.value, '.6~g')", "title": "objective target", "titleX": -59, "titleY": 124, "titleAngle": 270, "titleAlign": "center", "titleBaseline": "middle", "tickSize": -6, "labelPadding": 13}},
    "detail": {"field": "r", "type": "nominal"},
    "strokeDash": {"condition": {"test": "datum.a === 'CSA'", "value": [1,0]}, "value": [4,3]},
    "order": {"value": null}
   }},
  {"mark": {"type": "point", "clip": true, "filled": false, "color": "#000", "strokeWidth": 1, "size": 49, "opacity": 1},
   "encoding": {
    "x": {"field": "t", "type": "quantitative", "scale": {"type": "log", "domain": [100, 28800], "nice": false}, "axis": {"orient": "top", "values": [100,1000,10000], "labels": false, "title": null, "tickSize": -6}},
    "y": {"field": "v", "type": "quantitative", "scale": {"type": "log", "domain": [1.0486, 1.647], "nice": false}, "axis": {"orient": "right", "values": [1.1,1.21,1.331,1.4641,1.61051], "labels": false, "title": null, "tickSize": -6}},
    "shape": {"condition": {"test": "datum.a === 'CSA'", "value": "M-1,0H1M0,-1V1"}, "value": "M-1,-1L1,1M-1,1L1,-1"}
   }},
  {"transform": [{"filter": "false"}],
   "mark": {"type": "point", "filled": false, "color": "#000", "strokeWidth": 1, "opacity": 1},
   "encoding": {
    "x": {"field": "t", "type": "quantitative", "scale": {"type": "log", "domain": [100, 28800], "nice": false}, "axis": {"orient": "bottom", "values": [200,300,400,500,600,700,800,900,2000,3000,4000,5000,6000,7000,8000,9000,20000], "labels": false, "title": null, "tickSize": -3}},
    "y": {"field": "v", "type": "quantitative", "scale": {"type": "log", "domain": [1.0486, 1.647], "nice": false}, "axis": null},
    "shape": {"field": "a", "type": "nominal", "scale": {"domain": ["CSA", "anytime-CSA"], "range": ["M-2,0H3.8M0,-0.7V0.7", "M-2,0H-1.3M1.2,0H1.8M2.2,0H2.8M3.2,0H3.8M-0.6,-0.6L0.6,0.6M-0.6,0.6L0.6,-0.6"]}, "legend": {"title": null, "orient": "top-right", "offset": 14, "padding": 0, "rowPadding": 1, "labelFont": "Liberation Serif", "labelFontSize": 15, "labelColor": "#000", "labelLimit": 200, "labelAlign": "right", "labelOffset": -25.5, "symbolSize": 100, "symbolStrokeColor": "#000", "symbolStrokeWidth": 1, "symbolOpacity": 1}}
   }},
  {"transform": [{"filter": "false"}],
   "mark": {"type": "point", "opacity": 0},
   "encoding": {
    "x": {"field": "t", "type": "quantitative", "scale": {"type": "log", "domain": [100, 28800], "nice": false}, "axis": {"orient": "top", "values": [200,300,400,500,600,700,800,900,2000,3000,4000,5000,6000,7000,8000,9000,20000], "labels": false, "title": null, "tickSize": -3}},
    "y": {"field": "v", "type": "quantitative", "scale": {"type": "log", "domain": [1.0486, 1.647], "nice": false}, "axis": null}
   }}
 ]},
{"width": 303, "height": 248, "transform": [{"filter": "datum.p === 'h'"}],
 "title": {"text": "h) P7.3, α = 0.3", "orient": "bottom", "anchor": "middle", "frame": "group", "offset": 9, "dx": 9},
 "resolve": {"axis": {"x": "independent", "y": "independent"}},
 "layer": [
  {"mark": {"type": "line", "clip": true, "color": "#000", "strokeWidth": 1},
   "encoding": {
    "x": {"field": "t", "type": "quantitative", "scale": {"type": "log", "domain": [48, 11600], "nice": false}, "axis": {"orient": "bottom", "values": [100,1000,10000], "labelExpr": "format(datum.value,'~g')", "title": "CPU time (seconds)", "titleY": 31, "titleBaseline": "middle", "tickSize": -6, "labelPadding": 16}},
    "y": {"field": "v", "type": "quantitative", "scale": {"type": "log", "domain": [1.0486, 1.647], "nice": false}, "axis": {"orient": "left", "values": [1.1,1.21,1.331,1.4641,1.61051], "labelExpr": "format(datum.value, '.6~g')", "title": "objective target", "titleX": -59, "titleY": 124, "titleAngle": 270, "titleAlign": "center", "titleBaseline": "middle", "tickSize": -6, "labelPadding": 13}},
    "detail": {"field": "r", "type": "nominal"},
    "strokeDash": {"condition": {"test": "datum.a === 'CSA'", "value": [1,0]}, "value": [4,3]},
    "order": {"value": null}
   }},
  {"mark": {"type": "point", "clip": true, "filled": false, "color": "#000", "strokeWidth": 1, "size": 49, "opacity": 1},
   "encoding": {
    "x": {"field": "t", "type": "quantitative", "scale": {"type": "log", "domain": [48, 11600], "nice": false}, "axis": {"orient": "top", "values": [100,1000,10000], "labels": false, "title": null, "tickSize": -6}},
    "y": {"field": "v", "type": "quantitative", "scale": {"type": "log", "domain": [1.0486, 1.647], "nice": false}, "axis": {"orient": "right", "values": [1.1,1.21,1.331,1.4641,1.61051], "labels": false, "title": null, "tickSize": -6}},
    "shape": {"condition": {"test": "datum.a === 'CSA'", "value": "M-1,0H1M0,-1V1"}, "value": "M-1,-1L1,1M-1,1L1,-1"}
   }},
  {"transform": [{"filter": "false"}],
   "mark": {"type": "point", "filled": false, "color": "#000", "strokeWidth": 1, "opacity": 1},
   "encoding": {
    "x": {"field": "t", "type": "quantitative", "scale": {"type": "log", "domain": [48, 11600], "nice": false}, "axis": {"orient": "bottom", "values": [50,60,70,80,90,200,300,400,500,600,700,800,900,2000,3000,4000,5000,6000,7000,8000,9000], "labels": false, "title": null, "tickSize": -3}},
    "y": {"field": "v", "type": "quantitative", "scale": {"type": "log", "domain": [1.0486, 1.647], "nice": false}, "axis": null},
    "shape": {"field": "a", "type": "nominal", "scale": {"domain": ["CSA", "anytime-CSA"], "range": ["M-2,0H3.8M0,-0.7V0.7", "M-2,0H-1.3M1.2,0H1.8M2.2,0H2.8M3.2,0H3.8M-0.6,-0.6L0.6,0.6M-0.6,0.6L0.6,-0.6"]}, "legend": {"title": null, "orient": "top-right", "offset": 14, "padding": 0, "rowPadding": 1, "labelFont": "Liberation Serif", "labelFontSize": 15, "labelColor": "#000", "labelLimit": 200, "labelAlign": "right", "labelOffset": -25.5, "symbolSize": 100, "symbolStrokeColor": "#000", "symbolStrokeWidth": 1, "symbolOpacity": 1}}
   }},
  {"transform": [{"filter": "false"}],
   "mark": {"type": "point", "opacity": 0},
   "encoding": {
    "x": {"field": "t", "type": "quantitative", "scale": {"type": "log", "domain": [48, 11600], "nice": false}, "axis": {"orient": "top", "values": [50,60,70,80,90,200,300,400,500,600,700,800,900,2000,3000,4000,5000,6000,7000,8000,9000], "labels": false, "title": null, "tickSize": -3}},
    "y": {"field": "v", "type": "quantitative", "scale": {"type": "log", "domain": [1.0486, 1.647], "nice": false}, "axis": null}
   }}
 ]}
],
"config": {
 "view": {"stroke": "#000", "strokeWidth": 1},
 "axis": {"domain": false, "grid": false, "tickColor": "#000", "tickWidth": 1, "labelFont": "Liberation Serif", "labelFontSize": 14, "labelColor": "#000", "titleFont": "Liberation Serif", "titleFontSize": 14.5, "titleFontWeight": "normal", "titleColor": "#000", "labelFlush": false, "labelOverlap": false, "labelBound": false},
 "title": {"font": "DejaVu Sans", "fontSize": 20, "fontWeight": "normal", "color": "#000"}
}
}
